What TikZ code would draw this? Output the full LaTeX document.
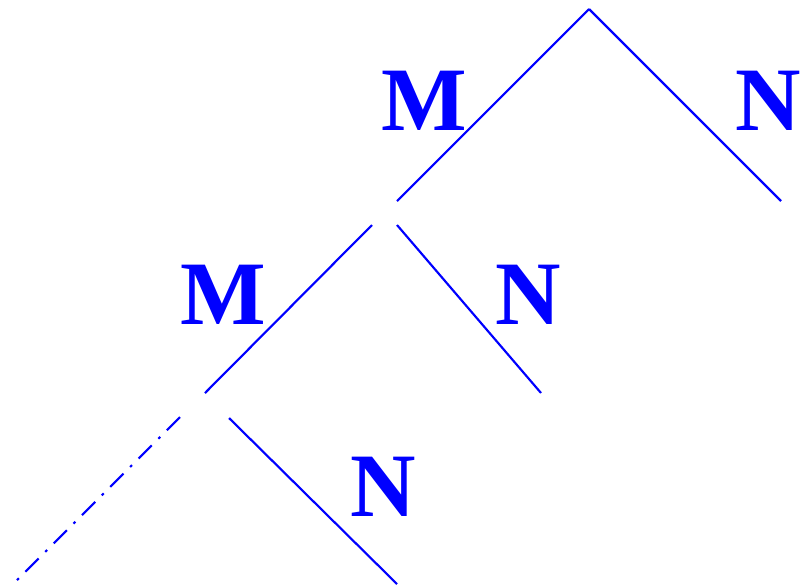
\documentclass[tikz,border=0pt]{standalone}
\usepackage{fontspec}
\setmainfont{Liberation Serif}
\usepackage{xcolor}
\usepackage{tikz}

\begin{document}
\begin{tikzpicture}[
    x=0.75pt, y=-0.75pt,
    branch/.style={
        draw=blue,
        line width=1.6pt
    },
    openbranch/.style={
        branch,
        dash pattern=on 14pt off 7pt on 2pt off 7pt
    },
    lab/.style={
        text=blue,
        font=\fontsize{68}{68}\selectfont\bfseries,
        inner sep=0pt
    }
]
\useasboundingbox (0,0) rectangle (802,587);

% Branch end points
\coordinate (top) at (589,9);
\coordinate (topl) at (397,201);
\coordinate (topr) at (781,201);
\coordinate (midstart) at (372,225);
\coordinate (midl) at (205,393);
\coordinate (midrstart) at (397,225);
\coordinate (midr) at (541,393);
\coordinate (lowstart) at (180,417);
\coordinate (lowl) at (14,583);
\coordinate (lowrstart) at (229,418);
\coordinate (lowr) at (397,584);

% Labels
\node[lab] (m1) at (424,101) {M};
\node[lab] (n1) at (768,101) {N};
\node[lab] (m2) at (223,295) {M};
\node[lab] (n2) at (528,295) {N};
\node[lab] (n3) at (383,487) {N};

% Branches
\draw[branch] (top) -- (topl);
\draw[branch] (top) -- (topr);
\draw[branch] (midstart) -- (midl);
\draw[branch] (midrstart) -- (midr);
\draw[openbranch] (lowstart) -- (lowl);
\draw[branch] (lowrstart) -- (lowr);

\end{tikzpicture}
\end{document}
